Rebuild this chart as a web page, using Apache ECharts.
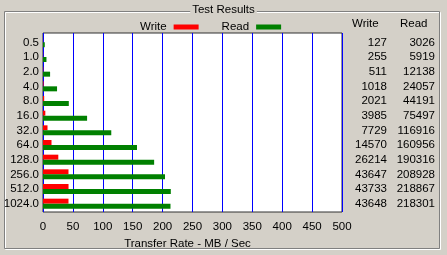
<!DOCTYPE html>
<html><head><meta charset="utf-8">
<script src="https://cdn.jsdelivr.net/npm/echarts@6/dist/echarts.min.js"></script>
<style>html,body{margin:0;padding:0;background:#d4d0c8;}#c{width:447px;height:255px;}</style>
</head><body><div id="c"></div>
<script>
const categories = ['0.5','1.0','2.0','4.0','8.0','16.0','32.0','64.0','128.0','256.0','512.0','1024.0'];
const writeKB = [127,255,511,1018,2021,3985,7729,14570,26214,43647,43733,43648];
const readKB  = [3026,5919,12138,24057,44191,75497,116916,160956,190316,208928,218867,218301];
const xTicks = [0,50,100,150,200,250,300,350,400,450,500];
</script>
<script>
const writeMB = writeKB.map(v => v / 1024);
const readMB = readKB.map(v => v / 1024);
const FONT = '"Liberation Sans", Arial, sans-serif';
const FS = 11.5;
const chart = echarts.init(document.getElementById('c'), null, {renderer:'canvas'});
const catAxis = (data, extra) => Object.assign({gridIndex:1, type:'category', data:data, inverse:true,
     axisLine:{show:false}, axisTick:{show:false}, splitLine:{show:false}}, extra);
chart.setOption({
  animation: false,
  backgroundColor: '#d4d0c8',
  textStyle: {fontFamily: FONT, color: '#000'},
  graphic: [
    {type:'rect', shape:{x:5.5,y:12.5,width:435,height:237}, style:{fill:'none', stroke:'#ffffff', lineWidth:1}, z:0},
    {type:'rect', shape:{x:4.5,y:11.5,width:435,height:237}, style:{fill:'none', stroke:'#808080', lineWidth:1}, z:1},
    {type:'text', left:'center', top:4, z:5, style:{text:'Test Results', font:FS+'px '+FONT, fill:'#000', backgroundColor:'#d4d0c8', padding:[0,2]}},
    {type:'text', left:352, top:18, z:5, style:{text:'Write', font:FS+'px '+FONT, fill:'#000'}},
    {type:'text', left:400, top:18, z:5, style:{text:'Read', font:FS+'px '+FONT, fill:'#000'}}
  ],
  legend: {
    data: [{name:'Write'}, {name:'Read'}],
    top: 16, left: 135,
    align: 'right',
    itemWidth: 25, itemHeight: 5, itemGap: 23,
    textStyle: {fontSize: FS, fontFamily: FONT, color:'#000', padding:[0,2,0,0]},
    icon: 'rect'
  },
  grid: [
    {left:43, top:33, width:299, height:179, show:true, backgroundColor:'#ffffff', borderColor:'#303030', borderWidth:1, containLabel:false},
    {left:43, top:35, width:299, height:176, containLabel:false}
  ],
  xAxis: [
    {gridIndex:0, type:'value', min:0, max:500, interval:50,
     axisLine:{show:false}, axisTick:{show:false},
     axisLabel:{fontSize:FS, fontFamily:FONT, color:'#000', margin:9, formatter: v => xTicks.includes(v) ? String(v) : ''},
     splitLine:{show:true, lineStyle:{color:'#0000ff', width:1}},
     name:'Transfer Rate - MB / Sec', nameLocation:'middle', nameGap:25,
     nameTextStyle:{fontSize:FS, fontFamily:FONT, color:'#000', padding:[0,10,0,0]}},
    {gridIndex:1, type:'value', min:0, max:500, show:false}
  ],
  yAxis: [
    {gridIndex:0, type:'value', show:false},
    catAxis(categories, {axisLabel:{fontSize:FS, fontFamily:FONT, color:'#000', margin:4, interval:0}}),
    catAxis(writeKB.map(String), {position:'right', axisLabel:{fontSize:FS, fontFamily:FONT, color:'#000', align:'right', margin:45, interval:0}}),
    catAxis(readKB.map(String), {position:'right', axisLabel:{fontSize:FS, fontFamily:FONT, color:'#000', align:'right', margin:93, interval:0}})
  ],
  series: [
    {name:'Write', type:'bar', xAxisIndex:1, yAxisIndex:1, data:writeMB, barWidth:5, barGap:'0%',
     itemStyle:{color:'#ff0000'}},
    {name:'Read', type:'bar', xAxisIndex:1, yAxisIndex:1, data:readMB, barWidth:5, barGap:'0%',
     itemStyle:{color:'#008000'}}
  ]
});
</script>
</body></html>
